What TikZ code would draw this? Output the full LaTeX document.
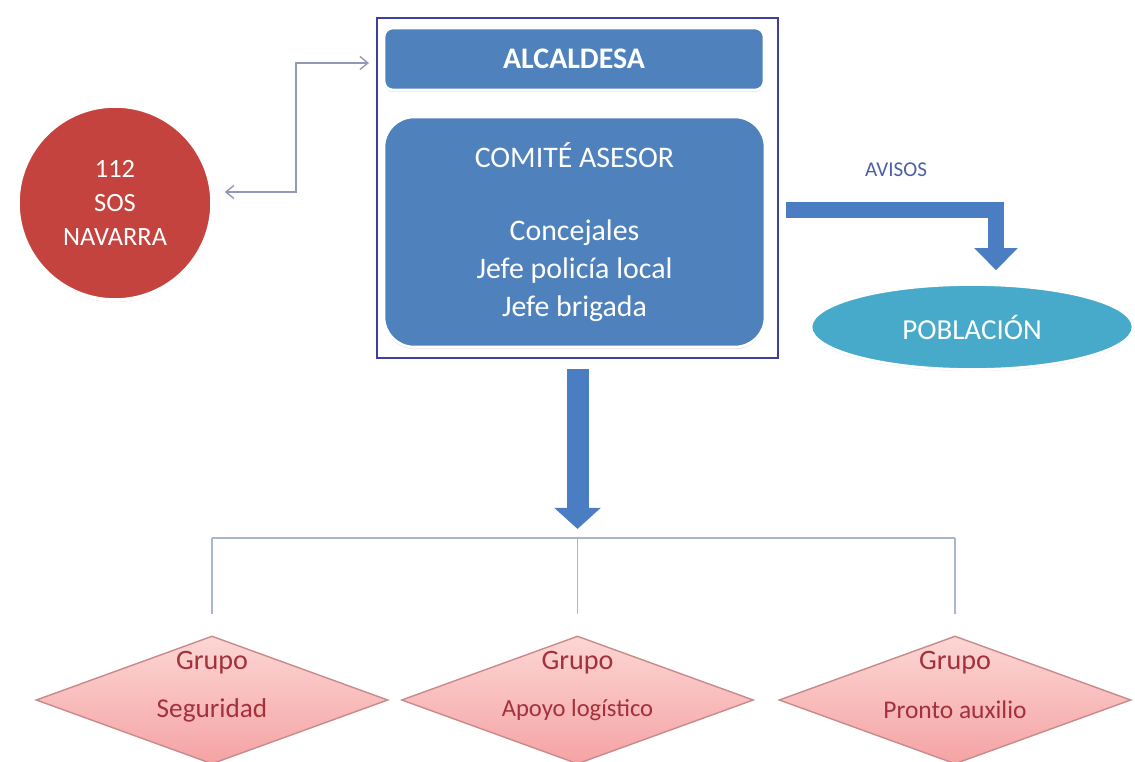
\documentclass[tikz,border=0pt]{standalone}
\usepackage{fontspec}
\setmainfont{Carlito}
\usepackage{xcolor}
\usepackage{tikz}
\usetikzlibrary{shapes.geometric, positioning, calc, arrows.meta, shadows}
\definecolor{boxblue}{HTML}{4F81BD}
\definecolor{framecol}{HTML}{3F3F9E}
\definecolor{arrowblue}{HTML}{4A7DC2}
\definecolor{sosred}{HTML}{C4433F}
\definecolor{popteal}{HTML}{47AACA}
\definecolor{linkgray}{HTML}{9199B4}
\definecolor{treeline}{HTML}{AAB6CE}
\definecolor{rosetop}{HTML}{FCD6D4}
\definecolor{rosebottom}{HTML}{F5A3A4}
\definecolor{roseedge}{HTML}{C98A8B}
\definecolor{grouptext}{HTML}{A3313A}
\definecolor{avisotext}{HTML}{4D5FA6}
\newcommand{\px}{0.2mm}
\newcommand{\fs}[2]{\fontsize{#1}{#2}\selectfont}
\tikzset{
    box/.style={fill=boxblue, draw=white, line width=1.5pt, text=white, inner sep=0pt, drop shadow={opacity=0.2, shadow xshift=0pt, shadow yshift=-1.2pt}},
    grupo/.style={diamond, draw=roseedge, line width=0.8pt, top color=rosetop, bottom color=rosebottom, minimum width=352*\px, minimum height=128*\px, inner sep=0pt},
    grupotext/.style={text=grouptext, inner sep=0pt, font=\fs{#1}{18}},
    link/.style={draw=linkgray, line width=0.8pt, {Straight Barb[length=1.6mm, width=2.6mm]}-{Straight Barb[length=1.6mm, width=2.6mm]}},
    tree/.style={draw=treeline, line width=1pt},
    bigarrow/.style={draw=arrowblue, line width=#1},
}
\begin{document}
\begin{tikzpicture}[x=\px, y=-\px]
        \useasboundingbox (0,0) rectangle (1135,762);
        % Frame with the command
        \node (frame) [draw=framecol, line width=1.1pt, minimum width=401*\px, minimum height=340*\px, inner sep=0pt] at (577.5,188) {};
        \node (alcaldesa) [box, minimum width=380*\px, minimum height=62*\px, rounded corners=1.8mm, font=\bfseries\fs{17}{20}] at (574,59) {ALCALDESA};
        \node (comite) [box, minimum width=381*\px, minimum height=230*\px, rounded corners=6mm, align=center, font=\fs{17}{21.5}] at (574.5,232) {COMITÉ ASESOR\\[20pt]Concejales\\Jefe policía local\\Jefe brigada};
        % 112
        \node (sos) [circle, fill=sosred, draw=white, line width=2pt, minimum size=194*\px, text=white, align=center, font=\fs{15}{19.5}, drop shadow={opacity=0.2, shadow xshift=0pt, shadow yshift=-1.2pt}] at (115,203) {112\\SOS\\NAVARRA};
        % Poblacion
        \node (pob) [ellipse, fill=popteal, draw=white, line width=1.5pt, minimum width=322*\px, minimum height=85*\px, text=white, font=\fs{16.5}{19}, drop shadow={opacity=0.15, shadow xshift=0pt, shadow yshift=-1pt}] at (972,327) {POBLACIÓN};
        \node (avisos) [text=avisotext, font=\fs{12}{14}] at (896,170) {AVISOS};
        % Groups
        \node (g1) [grupo] at (212,700) {};
        \node (g2) [grupo] at (577.5,700) {};
        \node (g3) [grupo] at (955,700) {};
        \node (g1a) [grupotext=16] at ($(g1.center)+(0,-37)$) {Grupo};
        \node (g1b) [grupotext=15.5] at ($(g1.center)+(0,10)$) {Seguridad};
        \node (g2a) [grupotext=16] at ($(g2.center)+(0,-37)$) {Grupo};
        \node (g2b) [grupotext=14] at ($(g2.center)+(0,10)$) {Apoyo logístico};
        \node (g3a) [grupotext=16] at ($(g3.center)+(0,-37)$) {Grupo};
        \node (g3b) [grupotext=14.5] at ($(g3.center)+(0,10)$) {Pronto auxilio};

        % link 112 <-> alcaldesa
        \coordinate (sosport) at ($(sos.east)+(11,-11)$);
        \coordinate (alcport) at ($(frame.west |- alcaldesa.west)+(-7,4)$);
        \coordinate (elbow) at ($(alcport)+(-73,0)$);
        \draw[link] (sosport) -| (elbow) -- (alcport);
        % Avisos
        \coordinate (avport) at ($(frame.east)+(7,22)$);
        \draw[bigarrow=3.2mm, -{Triangle[width=8.4mm, length=4.4mm]}, shorten >=2.6mm] (avport) -| ($(pob.north)+(24,0)$);
        % Down to the groups
        \coordinate (bus) at ($(frame.south)+(0,179)$);
        \draw[bigarrow=4.4mm, -{Triangle[width=9mm, length=4.2mm]}, shorten <=2mm, shorten >=1.8mm] (frame.south) -- (bus);
        \draw[tree] (bus -| g1) -- (bus -| g3);
        \draw[tree, shorten >=4.2mm] (bus -| g1) -- (g1.north);
        \draw[tree, shorten >=4.2mm] (bus) -- (g2.north);
        \draw[tree, shorten >=4.2mm] (bus -| g3) -- (g3.north);
    \end{tikzpicture}
\end{document}
